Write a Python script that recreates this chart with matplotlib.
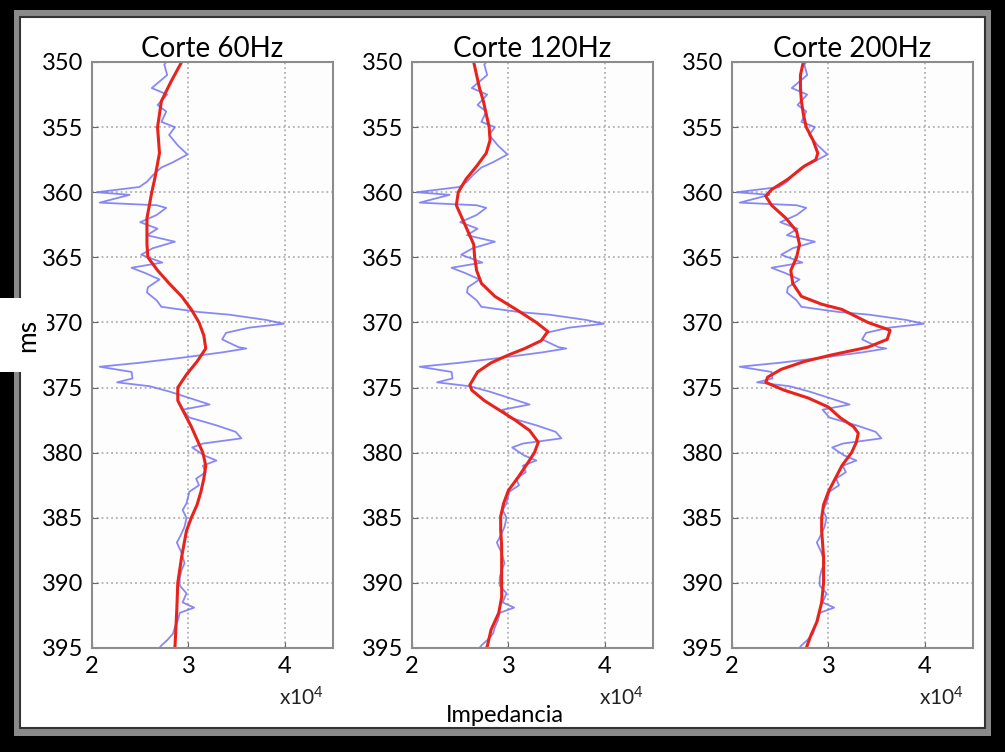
import matplotlib
matplotlib.use("Agg")
import matplotlib.pyplot as plt
from matplotlib.patches import Rectangle

plt.rcParams['font.family'] = ['Lato', 'DejaVu Sans']
plt.rcParams['mathtext.fontset'] = 'custom'
plt.rcParams['mathtext.rm'] = 'Lato'
plt.rcParams['mathtext.default'] = 'regular'

# registro de impedancia (x1e4), igual en los tres cortes
pozo_ms = [350.0, 350.2, 351.0, 352.0, 352.5, 353.3, 353.8, 354.6, 355.0, 355.6, 356.4, 357.1,
           357.7, 358.1, 358.7, 359.2, 359.6, 360.0, 360.2, 360.8, 361.0, 361.2, 361.75, 362.3,
           362.8, 363.3, 363.8, 364.3, 364.8, 365.4, 365.8, 366.2, 366.7, 367.3, 367.7, 368.3,
           368.8, 369.2, 369.4, 369.8, 370.1, 370.4, 370.8, 371.3, 371.9, 372.0, 372.3, 372.7,
           373.1, 373.4, 373.8, 374.3, 374.6, 374.9, 375.3, 375.8, 376.3, 376.7, 377.3, 377.9,
           378.4, 378.9, 379.3, 379.6, 380.2, 380.6, 381.0, 381.5, 382.0, 382.5, 383.0, 383.9,
           384.4, 385.0, 385.7, 386.5, 386.9, 387.7, 388.5, 389.0, 389.6, 390.2, 390.8, 391.5,
           391.9, 392.3, 392.9, 393.4, 393.9, 394.4, 394.8, 395.0]
pozo_imp = [2.77, 2.75, 2.78, 2.62, 2.78, 2.68, 2.77, 2.72, 2.86, 2.80, 2.89, 2.99,
            2.84, 2.72, 2.63, 2.57, 2.49, 2.05, 2.39, 2.08, 2.67, 2.77, 2.67, 2.50,
            2.68, 2.57, 2.86, 2.63, 2.51, 2.73, 2.41, 2.55, 2.70, 2.58, 2.57, 2.67,
            2.72, 3.11, 3.42, 3.80, 3.99, 3.63, 3.39, 3.35, 3.52, 3.60, 3.35, 2.94,
            2.49, 2.08, 2.41, 2.42, 2.26, 2.60, 2.80, 3.01, 3.22, 2.94, 3.01, 3.29,
            3.49, 3.55, 3.15, 3.04, 3.16, 3.29, 3.15, 3.18, 3.08, 3.11, 3.01, 2.98,
            2.94, 2.98, 2.96, 2.91, 2.88, 2.93, 2.96, 2.93, 2.91, 2.91, 2.98, 2.94,
            3.06, 2.91, 2.89, 2.86, 2.84, 2.78, 2.72, 2.70]

# inversiones por frecuencia de corte
ms_60 = [350, 351.5, 353, 355, 357, 359, 360, 362, 364, 365, 366, 367, 368, 369, 370, 371,
         372, 373, 374, 375, 376, 377, 378, 379, 380, 381, 382, 383, 384, 385, 386, 388,
         390, 392, 395]
imp_60 = [2.93, 2.82, 2.72, 2.68, 2.70, 2.65, 2.62, 2.57, 2.57, 2.58, 2.68, 2.80, 2.93, 3.03,
          3.11, 3.16, 3.18, 3.09, 2.98, 2.89, 2.89, 2.96, 3.03, 3.09, 3.15, 3.18, 3.16, 3.13,
          3.09, 3.03, 2.98, 2.93, 2.89, 2.88, 2.86]

ms_120 = [350, 351, 352, 353, 354, 355, 356, 357, 358, 359, 360, 361, 362, 363, 364, 365,
          366, 367, 368, 369, 370, 370.7, 371.4, 372, 372.5, 373.1, 373.8, 374.8, 375.2, 376,
          376.7, 377.5, 378.3, 379.2, 380, 380.8, 381.9, 382.9, 383.9, 384.9, 385.9, 387.2,
          388.5, 389.8, 391.1, 392.3, 393.6, 394.9, 395]
imp_120 = [2.64, 2.67, 2.70, 2.74, 2.77, 2.80, 2.81, 2.77, 2.67, 2.56, 2.48, 2.46, 2.52, 2.58,
           2.64, 2.65, 2.67, 2.72, 2.86, 3.08, 3.29, 3.41, 3.34, 3.17, 3.00, 2.82, 2.68, 2.60,
           2.62, 2.75, 2.90, 3.07, 3.22, 3.31, 3.27, 3.20, 3.10, 3.00, 2.95, 2.92, 2.92, 2.93,
           2.93, 2.93, 2.93, 2.90, 2.82, 2.78, 2.77]

ms_200 = [350, 351, 352, 353, 354, 355, 356, 357, 357.5, 358, 359, 359.8, 360.3, 361, 362, 363,
          364, 365, 366, 367, 368, 368.6, 369, 370, 370.6, 371.3, 371.9, 372.5, 373, 373.6,
          374.2, 374.6, 375.2, 375.8, 376.5, 377.3, 378, 378.5, 379.2, 380, 381, 382, 383,
          384, 385, 386, 388, 390, 391.5, 393, 394, 395]
imp_200 = [2.74, 2.71, 2.71, 2.72, 2.74, 2.77, 2.84, 2.89, 2.87, 2.75, 2.58, 2.41, 2.35, 2.41,
           2.56, 2.67, 2.70, 2.67, 2.61, 2.63, 2.72, 2.93, 3.14, 3.41, 3.64, 3.61, 3.41, 3.03,
           2.75, 2.51, 2.37, 2.35, 2.54, 2.79, 3.00, 3.12, 3.26, 3.31, 3.29, 3.24, 3.14, 3.07,
           3.00, 2.95, 2.93, 2.93, 2.95, 2.95, 2.93, 2.88, 2.82, 2.77]

titulos = ['Corte 60Hz', 'Corte 120Hz', 'Corte 200Hz']
cortes = [(ms_60, imp_60), (ms_120, imp_120), (ms_200, imp_200)]

W, H = 1005, 752
fig = plt.figure(figsize=(W / 100, H / 100), dpi=100)
fig.patch.set_facecolor('black')

# marco: sombra gris + fondo blanco
fig.add_artist(Rectangle((14 / W, 1 - 736 / H), 977 / W, 726 / H, transform=fig.transFigure,
                         facecolor='#8a8a8a', edgecolor='none', zorder=0))
fig.add_artist(Rectangle((20 / W, 1 - 728 / H), 965 / W, 711 / H, transform=fig.transFigure,
                         facecolor='white', edgecolor='#333333', lw=1.5, zorder=0))

izq = [92, 412, 732]
for i in range(3):
    ax = fig.add_axes([izq[i] / W, 1 - 648 / H, 241 / W, 586 / H])
    ax.set_facecolor('#fdfdfd')
    ax.plot(pozo_imp, pozo_ms, color='#7474f4', lw=1.3, alpha=0.85)
    ms, imp = cortes[i]
    ax.plot(imp, ms, color='#e8231c', lw=2.2, solid_joinstyle='round')
    ax.set_xlim(2.0, 4.5)
    ax.set_ylim(395, 350)
    ax.set_xticks([2, 3, 4])
    ax.set_yticks(range(350, 396, 5))
    ax.grid(True, color='#b0b0b0', ls=':', lw=1.3)
    ax.tick_params(direction='in', length=4, color='#666666', labelsize=17, pad=6)
    for s in ax.spines.values():
        s.set_color('#8c8c8c')
        s.set_linewidth(1.5)
    ax.set_title(titulos[i], fontsize=20, pad=3)
    ax.text(0.87, -0.085, 'x10$^{4}$', transform=ax.transAxes, ha='center', va='center',
            fontsize=15, color='#222222')

fig.text(0.5025, 1 - 715 / H, 'Impedancia', ha='center', va='center', fontsize=17)

# recuadro con la etiqueta del eje y
fig.add_artist(Rectangle((0, 1 - 372 / H), 47 / W, 74 / H, transform=fig.transFigure,
                         facecolor='white', edgecolor='none', zorder=5))
fig.text(28 / W, 1 - 335 / H, 'ms', rotation=90, ha='center', va='center', fontsize=19,
         zorder=6)

fig.savefig('out.png', dpi=100, facecolor=fig.get_facecolor())
